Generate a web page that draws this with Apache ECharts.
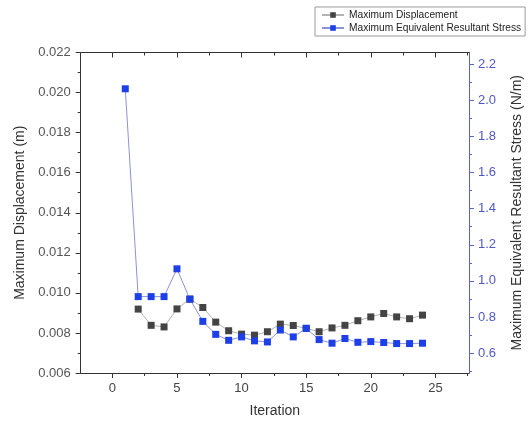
<!DOCTYPE html>
<html>
<head>
<meta charset="utf-8">
<script src="https://cdn.jsdelivr.net/npm/echarts@6/dist/echarts.min.js"></script>
<style>
html,body{margin:0;padding:0;background:#fff;}
#chart{width:532px;height:423px;}
</style>
</head>
<body>
<div id="chart"></div>
<script>
// Data
const iterations = [1,2,3,4,5,6,7,8,9,10,11,12,13,14,15,16,17,18,19,20,21,22,23,24];
const dispIterations = [2,3,4,5,6,7,8,9,10,11,12,13,14,15,16,17,18,19,20,21,22,23,24];
const maxDisplacement = [0.00919,0.00838,0.00830,0.00920,0.00969,0.00927,0.00854,0.00811,0.00794,0.00789,0.00806,0.00844,0.00837,0.00823,0.00806,0.00825,0.00838,0.00861,0.00880,0.00897,0.00880,0.00871,0.00889];
const maxStress = [2.064,0.913,0.913,0.913,1.067,0.899,0.776,0.704,0.671,0.690,0.668,0.662,0.728,0.690,0.737,0.675,0.655,0.681,0.660,0.664,0.659,0.653,0.653,0.655];

// Tick labels
const xMajorTicks = [0,5,10,15,20,25];
const xMinorTicks = [2.5,7.5,12.5,17.5,22.5,27.5];
const yLeftMajor = [0.006,0.008,0.010,0.012,0.014,0.016,0.018,0.020,0.022];
const yLeftMinor = [0.007,0.009,0.011,0.013,0.015,0.017,0.019,0.021];
const yRightMajor = [0.6,0.8,1.0,1.2,1.4,1.6,1.8,2.0,2.2];
const yRightMinor = [0.5,0.7,0.9,1.1,1.3,1.5,1.7,1.9,2.1];

const FONT = 'Liberation Sans, Arial, sans-serif';
const AX = '#333';
const BLUE_AX = '#5a62cc';

const chart = echarts.init(document.getElementById('chart'), null, {renderer:'canvas'});

const xMin = -2.45, xMax = 27.6;
const lMin = 0.006, lMax = 0.022;
const rMin = 0.49, rMax = 2.265;

function hiddenAxisBase(extra){
  return Object.assign({
    type:'value', splitLine:{show:false}, axisLine:{show:false, onZero:false}
  }, extra);
}

const option = {
  backgroundColor:'#fff',
  animation:false,
  textStyle:{fontFamily:FONT},
  grid:{left:80.7, right:54, top:52.5, bottom:48, containLabel:false},
  legend:{
    orient:'vertical', left:315, top:7,
    data:['Maximum Displacement','Maximum Equivalent Resultant Stress'],
    borderColor:'#9a9a9a', borderWidth:1, backgroundColor:'#fff',
    padding:[3,4,3,6], itemGap:3, itemWidth:22, itemHeight:7,
    textStyle:{fontSize:10.2, color:'#222', fontFamily:FONT}
  },
  xAxis:[
    {type:'value', position:'bottom', min:xMin, max:xMax,
     name:'Iteration', nameLocation:'middle', nameGap:31,
     nameTextStyle:{fontSize:14, color:'#333', fontFamily:FONT},
     axisLine:{show:true, onZero:false, lineStyle:{color:AX, width:1}},
     axisTick:{show:true, inside:false, length:5, customValues:xMajorTicks, lineStyle:{color:AX}},
     axisLabel:{customValues:xMajorTicks, fontSize:13, color:'#444', margin:9, fontFamily:FONT},
     splitLine:{show:false}},
    hiddenAxisBase({position:'bottom', min:xMin, max:xMax,
     axisTick:{show:true, inside:false, length:3, customValues:xMinorTicks, lineStyle:{color:AX}},
     axisLabel:{show:false, customValues:xMinorTicks}}),
    {type:'value', position:'top', min:xMin, max:xMax,
     axisLine:{show:true, onZero:false, lineStyle:{color:AX, width:1}},
     axisTick:{show:true, inside:true, length:5, customValues:xMajorTicks, lineStyle:{color:AX}},
     axisLabel:{show:false, customValues:xMajorTicks}, splitLine:{show:false}},
    hiddenAxisBase({position:'top', min:xMin, max:xMax,
     axisTick:{show:true, inside:true, length:3, customValues:xMinorTicks, lineStyle:{color:AX}},
     axisLabel:{show:false, customValues:xMinorTicks}})
  ],
  yAxis:[
    {type:'value', position:'left', min:lMin, max:lMax,
     name:'Maximum Displacement (m)', nameLocation:'middle', nameGap:51,
     nameTextStyle:{fontSize:14, color:'#333', fontFamily:FONT},
     axisLine:{show:true, onZero:false, lineStyle:{color:AX, width:1}},
     axisTick:{show:true, inside:false, length:5, customValues:yLeftMajor, lineStyle:{color:AX}},
     axisLabel:{customValues:yLeftMajor, fontSize:13, color:'#555', margin:10, fontFamily:FONT,
       formatter:function(v){return Number(v).toFixed(3);}},
     splitLine:{show:false}},
    hiddenAxisBase({position:'left', min:lMin, max:lMax,
     axisTick:{show:true, inside:false, length:3, customValues:yLeftMinor, lineStyle:{color:AX}},
     axisLabel:{show:false, customValues:yLeftMinor}}),
    {type:'value', position:'right', min:rMin, max:rMax,
     name:'Maximum Equivalent Resultant Stress (N/m)', nameLocation:'middle', nameGap:41,
     nameTextStyle:{fontSize:14, color:'#333', fontFamily:FONT},
     axisLine:{show:true, onZero:false, lineStyle:{color:BLUE_AX, width:1}},
     axisTick:{show:true, inside:false, length:5, customValues:yRightMajor, lineStyle:{color:BLUE_AX}},
     axisLabel:{customValues:yRightMajor, fontSize:13, color:'#4f58c8', margin:9, fontFamily:FONT,
       formatter:function(v){return Number(v).toFixed(1);}},
     splitLine:{show:false}},
    hiddenAxisBase({position:'right', min:rMin, max:rMax,
     axisTick:{show:true, inside:false, length:3, customValues:yRightMinor, lineStyle:{color:BLUE_AX}},
     axisLabel:{show:false, customValues:yRightMinor}})
  ],
  series:[
    {name:'Maximum Displacement', type:'line', xAxisIndex:0, yAxisIndex:0,
     data:dispIterations.map(function(x,i){return [x, maxDisplacement[i]];}),
     symbol:'rect', symbolSize:7, showSymbol:true,
     itemStyle:{color:'#444444'},
     lineStyle:{color:'#b4b4b4', width:1}, z:2},
    {name:'Maximum Equivalent Resultant Stress', type:'line', xAxisIndex:0, yAxisIndex:2,
     data:iterations.map(function(x,i){return [x, maxStress[i]];}),
     symbol:'rect', symbolSize:7, showSymbol:true,
     itemStyle:{color:'#1d3fe8'},
     lineStyle:{color:'#8d93d6', width:1}, z:3}
  ]
};
chart.setOption(option);
</script>
</body>
</html>
